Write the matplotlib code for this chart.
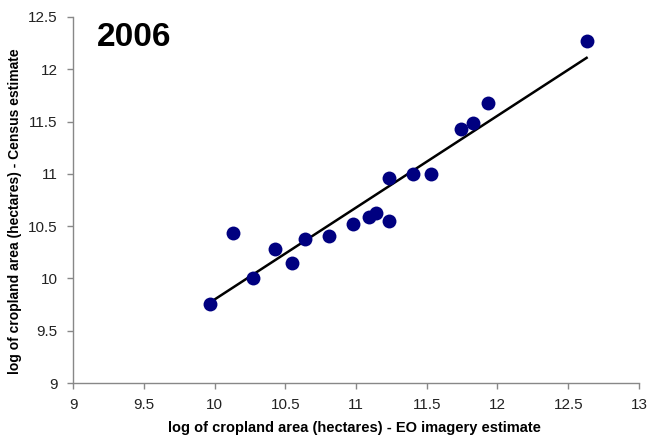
import numpy as np
import matplotlib.pyplot as plt

plt.rcParams['font.family'] = ['Liberation Sans', 'DejaVu Sans']

# log cropland area: EO imagery estimate (x) vs census estimate (y)
eo_est = [9.97, 10.13, 10.27, 10.43, 10.55, 10.64, 10.81, 10.98, 11.09,
          11.14, 11.23, 11.23, 11.40, 11.53, 11.74, 11.83, 11.93, 12.63]
census_est = [9.76, 10.43, 10.00, 10.28, 10.15, 10.38, 10.41, 10.52, 10.59,
              10.63, 10.55, 10.96, 11.00, 11.00, 11.43, 11.49, 11.68, 12.27]
year = '2006'

x = np.array(eo_est)
y = np.array(census_est)
slope, icpt = np.polyfit(x, y, 1)
xl = np.array([x.min(), x.max()])

fig = plt.figure(figsize=(6.52, 4.41), dpi=100)
ax = fig.add_axes([0.112, 0.1315, 0.868, 0.83])

ax.plot(xl, slope * xl + icpt, color='black', lw=1.8, zorder=2)
ax.plot(x, y, 'o', color='#000080', markersize=10, markeredgewidth=0, zorder=3)

ax.set_xlim(9, 13)
ax.set_ylim(9, 12.5)
ax.set_xticks(np.arange(9, 13.01, 0.5))
ax.set_yticks(np.arange(9, 12.51, 0.5))
ax.set_xticklabels(['9', '9.5', '10', '10.5', '11', '11.5', '12', '12.5', '13'])
ax.set_yticklabels(['9', '9.5', '10', '10.5', '11', '11.5', '12', '12.5'])

for s in ['top', 'right']:
    ax.spines[s].set_visible(False)
for s in ['left', 'bottom']:
    ax.spines[s].set_color('#888888')
    ax.spines[s].set_linewidth(1.0)
ax.tick_params(colors='#888888', length=4, width=1, labelcolor='#222222', labelsize=11, pad=7)

ax.set_xlabel('log of cropland area (hectares) - EO imagery estimate', fontsize=10.5,
              fontweight='bold')
ax.set_ylabel('log of cropland area (hectares) - Census estimate', fontsize=10,
              fontweight='bold')
ax.xaxis.set_label_coords(0.498, -0.123)
ax.yaxis.set_label_coords(-0.1025, 0.47)
ax.xaxis.label.set_va('center')
ax.yaxis.label.set_va('center')

ax.text(0.042, 0.9205, year, transform=ax.transAxes, fontsize=24, fontweight='bold',
        va='baseline', ha='left')

fig.savefig('out.png', dpi=100)
